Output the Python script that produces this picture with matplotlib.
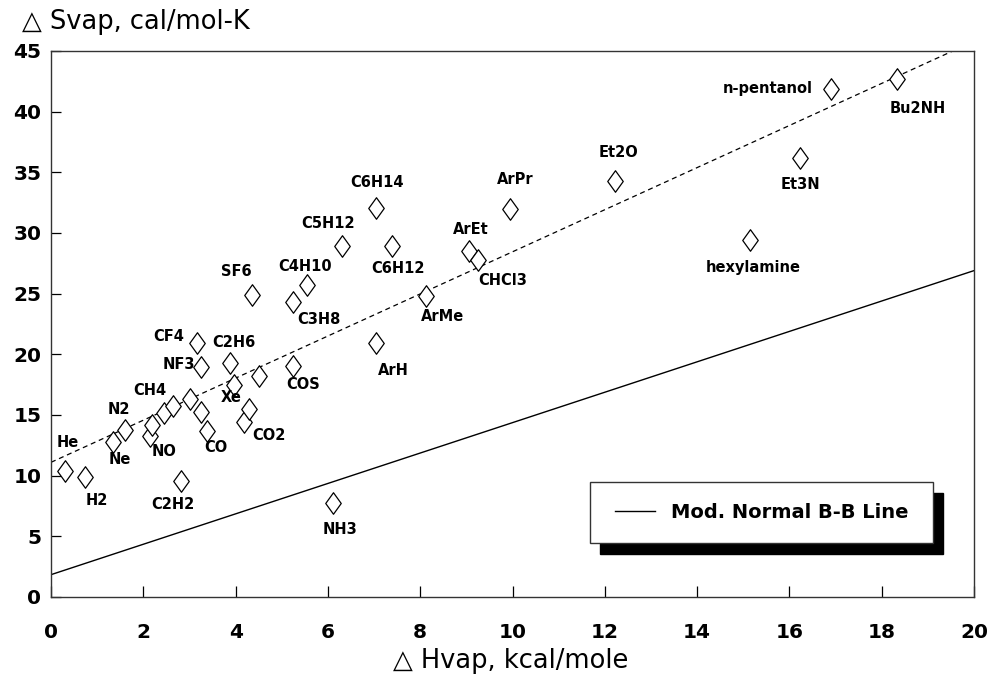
#!/usr/bin/env python3
import matplotlib.pyplot as plt
import numpy as np
from matplotlib.path import Path
from matplotlib.patches import Rectangle

# heat and entropy of vaporization at the normal boiling point
compounds = ["He", "H2", "Ne", "N2", "NO", "C2H2", "CH4", "O2", "Ar", "Kr",
             "CF4", "NF3", "PH3", "CO", "C2H6", "Xe", "H2S", "CO2", "HBr",
             "COS", "SF6", "C3H8", "C4H10", "NH3", "C5H12", "C6H14", "C6H12",
             "ArH", "ArMe", "ArEt", "CHCl3", "ArPr", "Et2O", "hexylamine",
             "Et3N", "n-pentanol", "Bu2NH"]
hvap = [0.30, 0.74, 1.34, 1.61, 2.15, 2.82, 2.44, 2.19, 2.64, 3.01,
        3.16, 3.25, 3.25, 3.37, 3.88, 3.97, 4.50, 4.19, 4.30,
        5.25, 4.36, 5.25, 5.55, 6.12, 6.31, 7.04, 7.39,
        7.05, 8.12, 9.06, 9.26, 9.95, 12.22, 15.15,
        16.23, 16.90, 18.34]
svap = [10.4, 9.9, 12.75, 13.75, 13.25, 9.55, 15.2, 14.15, 15.7, 16.3,
        20.95, 18.95, 15.25, 13.7, 19.3, 17.5, 18.2, 14.4, 15.5,
        19.0, 24.9, 24.3, 25.7, 7.75, 28.95, 32.1, 28.95,
        20.9, 24.8, 28.5, 27.8, 32.0, 34.3, 29.4,
        36.2, 41.9, 42.7]

# names written beside their points, with the text offset in pixels
label_offsets = {
    "He": (3, 28), "H2": (12, -24), "Ne": (7, -17), "N2": (-6, 21),
    "NO": (14, -15), "C2H2": (-8, -23), "CH4": (-14, 22), "CF4": (-28, 6),
    "NF3": (-22, 3), "CO": (9, -17), "C2H6": (4, 20), "Xe": (-3, -13),
    "CO2": (25, -13), "COS": (10, -18), "SF6": (-16, 23), "C3H8": (26, -17),
    "C4H10": (-2, 19), "NH3": (7, -27), "C5H12": (-14, 22),
    "C6H14": (1, 25), "C6H12": (6, -23), "ArH": (17, -27), "ArMe": (17, -20),
    "ArEt": (2, 22), "CHCl3": (24, -21), "ArPr": (5, 29), "Et2O": (4, 28),
    "hexylamine": (3, -27), "Et3N": (0, -27), "Bu2NH": (20, -30),
}

# trend lines: fit through the data (dashed) and the modified normal B-B line
line_x = [0, 20]
fit_y = [11.1, 45.8]
bb_y = [1.84, 26.9]

fig = plt.figure(figsize=(9.93, 6.79), dpi=100)
ax = fig.add_axes([0.0514, 0.1208, 0.9295, 0.8041])

ax.plot(line_x, fit_y, color="black", lw=0.9, ls=(0, (4, 3)), zorder=2)
bb_line, = ax.plot(line_x, bb_y, color="black", lw=1.0, zorder=2,
                   label="Mod. Normal B-B Line")

diamond = Path([(0, 1), (0.72, 0), (0, -1), (-0.72, 0), (0, 1)],
               [Path.MOVETO, Path.LINETO, Path.LINETO, Path.LINETO,
                Path.CLOSEPOLY])
ax.plot(hvap, svap, ls="none", marker=diamond, ms=15.5, mfc="white",
        mec="black", mew=0.9, zorder=3)

label_font = dict(family="DejaVu Sans", weight="bold", size=10.5)
for name, x, y in zip(compounds, hvap, svap):
    if name in label_offsets:
        dx, dy = label_offsets[name]
        ax.annotate(name, (x, y), xytext=(dx, dy), textcoords="offset pixels",
                    ha="center", va="center", zorder=4, **label_font)
ax.annotate("n-pentanol", (hvap[-2], svap[-2]), xytext=(-18, 0),
            textcoords="offset pixels", ha="right", va="center", zorder=4,
            **label_font)

ax.set_xlim(0, 20)
ax.set_ylim(0, 45)
ax.set_xticks(np.arange(0, 21, 2))
ax.set_yticks(np.arange(0, 46, 5))
ax.tick_params(axis="x", direction="in", length=8, width=0.9, pad=19,
               top=False)
ax.tick_params(axis="y", direction="in", length=7, width=0.9, pad=7,
               right=False)
for lbl in ax.get_xticklabels() + ax.get_yticklabels():
    lbl.set_fontfamily("DejaVu Sans")
    lbl.set_fontweight("bold")
    lbl.set_fontsize(14.5)
for sp in ax.spines.values():
    sp.set_linewidth(1.0)
    sp.set_color("#333333")

fig.text(22 / 993, 1 - 22 / 679, "\u25b3 Svap, cal/mol-K",
         family="DejaVu Sans", size=18.5, ha="left", va="center")
fig.text(511 / 993, 1 - 661 / 679, "\u25b3 Hvap, kcal/mole",
         family="DejaVu Sans", size=18.5, ha="center", va="center")

# legend box with a solid drop shadow
bx, by, bw, bh = 590 / 993, 1 - 543 / 679, 343 / 993, 61 / 679
fig.patches.append(Rectangle((bx + 10 / 993, by - 11 / 679), bw, bh,
                             transform=fig.transFigure, facecolor="black",
                             edgecolor="black", zorder=5))
fig.patches.append(Rectangle((bx, by), bw, bh, transform=fig.transFigure,
                             facecolor="white", edgecolor="#333333",
                             lw=1.0, zorder=6))
leg = ax.legend(handles=[bb_line], loc="center",
                bbox_to_anchor=(bx + bw / 2, by + bh / 2),
                bbox_transform=fig.transFigure, frameon=False,
                handlelength=2.1, handletextpad=0.8,
                prop=dict(family="DejaVu Sans", weight="bold", size=14))
leg.set_zorder(7)
leg.remove()
fig.add_artist(leg)

fig.savefig("out.png", dpi=100)
